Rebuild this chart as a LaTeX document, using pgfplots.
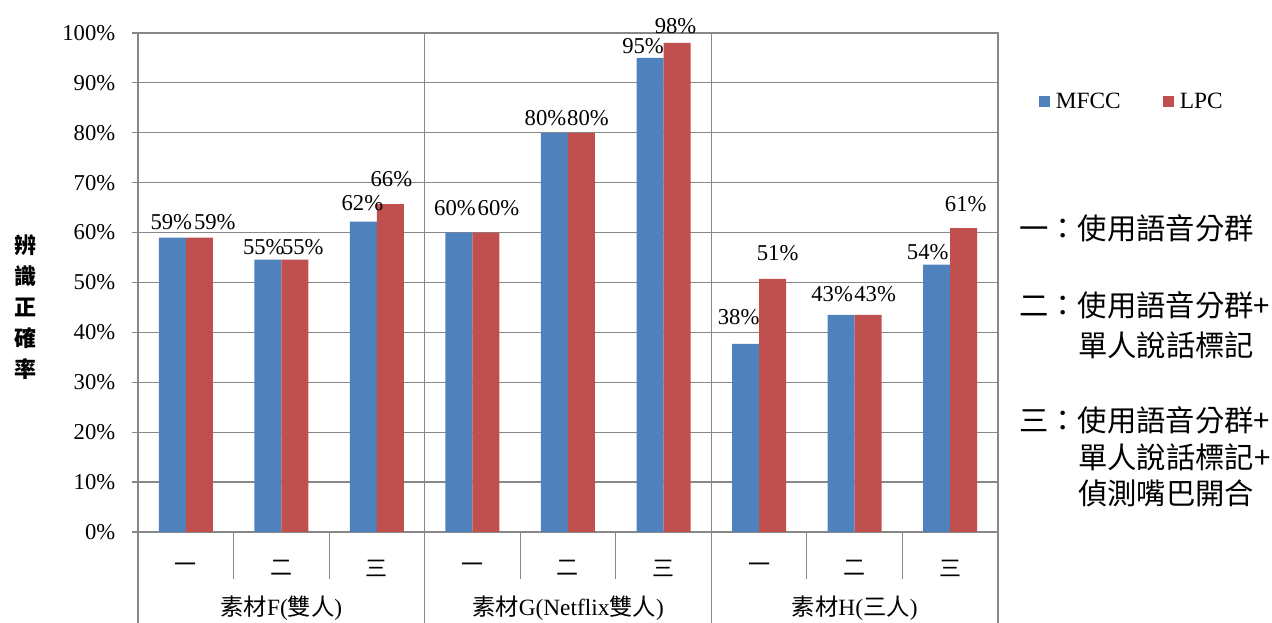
\documentclass[border=0pt]{standalone}
\usepackage{fontspec}
\setmainfont{Liberation Serif}
\newfontfamily\cjk{Noto Sans CJK TC}
\usepackage{pgfplots}
\usepackage{pgfplotstable}
\pgfplotsset{compat=1.18}
\definecolor{mblue}{HTML}{4F81BD}
\definecolor{mred}{HTML}{C0504D}
\definecolor{gridc}{HTML}{878787}
\newcommand{\fs}[1]{\fontsize{#1}{#1}\selectfont}
% x, value, label, label dx (px), label dy (px above bar top)
\pgfplotstableread{
x y lab dx dy
0 59 59 -1 15
1 54.6 55 -4 12
2 62.2 62 -1 19
3 60 60 -4 24
4 80 80 -9 15
5 95 95 -7 12
6 37.7 38 -7 27
7 43.5 43 -9 21
8 53.6 54 -9 12
}\mfcc
\pgfplotstableread{
x y lab dx dy
0 59 59 15.5 15
1 54.6 55 8 12
2 65.7 66 1 25
3 60 60 12.5 24
4 80 80 6.5 15
5 98 98 -1.5 17
6 50.7 51 5 26
7 43.5 43 7 21
8 60.9 61 2 24
}\lpc
\begin{document}
\begin{tikzpicture}[x=0.75pt,y=0.75pt]
\useasboundingbox (0,0) rectangle (1272,623);
\begin{axis}[
  at={(103.5pt,68.25pt)}, anchor=south west,
  width=645pt, height=374.25pt, scale only axis,
  xmin=-0.5, xmax=8.5, ymin=0, ymax=100,
  ybar=0pt, bar width=20.25pt,
  xtick={0,...,8},
  xticklabels={一,二,三,一,二,三,一,二,三},
  xtick style={draw=none},
  xticklabel style={font=\cjk\fs{16.5}, anchor=center, yshift=-22.5pt},
  ytick={0,10,...,100},
  yticklabel={\pgfmathprintnumber{\tick}\%},
  /pgf/number format/assume math mode=true,
  yticklabel style={font=\fs{17}, xshift=-9pt},
  ytick pos=left,
  ytick style={gridc, line width=0.9pt},
  tick align=outside, major tick length=4.5pt,
  ymajorgrids, grid style={gridc, line width=0.9pt},
  axis line style={gridc, line width=0.9pt},
  clip=false,
  nodes near coords={\pgfmathprintnumber{\pgfplotspointmeta}\%},
  point meta=\thisrow{lab},
  visualization depends on={\thisrow{dx}\as\dx},
  visualization depends on={\thisrow{dy}\as\dy},
  every node near coord/.append style={font=\fs{17}, black, inner sep=0pt,
     anchor=center, xshift=\dx*0.75pt, yshift=\dy*0.75pt},
  legend style={at={(1.0430,0.862)}, anchor=west, draw=none, fill=none,
    legend columns=2, font=\fs{17.5},
    /tikz/every odd column/.append style={column sep=2.25pt},
    /tikz/every even column/.append style={column sep=30pt},
    legend cell align=left},
  legend image code/.code={\path[#1,draw=none] (0pt,-4.1pt) rectangle (8.2pt,4.1pt);},
]
\addplot[fill=mblue, draw=none] table[x=x,y=y] {\mfcc};
\addplot[fill=mred, draw=none] table[x=x,y=y] {\lpc};
\legend{MFCC,LPC}
\draw[gridc, line width=0.9pt] (axis cs:2.5,0) -- (axis cs:2.5,100);
\draw[gridc, line width=0.9pt] (axis cs:5.5,0) -- (axis cs:5.5,100);
\pgfplotsinvokeforeach{0.5,1.5,3.5,4.5,6.5,7.5}{
  \draw[gridc, line width=0.9pt] (axis cs:#1,0) -- ++(0pt,-35.25pt);
}
\pgfplotsinvokeforeach{-0.5,2.5,5.5,8.5}{
  \draw[gridc, line width=0.9pt] (axis cs:#1,0) -- ++(0pt,-68.25pt);
}
\node[font=\fs{17.5}] at ([yshift=-57pt]axis cs:1,0) {\cjk 素材\rmfamily F(\cjk 雙人\rmfamily)};
\node[font=\fs{17.5}] at ([yshift=-57pt]axis cs:4,0) {\cjk 素材\rmfamily G(Netflix\cjk 雙人\rmfamily)};
\node[font=\fs{17.5}] at ([yshift=-57pt]axis cs:7,0) {\cjk 素材\rmfamily H(\cjk 三人\rmfamily)};
\end{axis}
% y label
\foreach \c/\yy in {辨/245,識/276,正/307,確/338,率/369}{
  \node[font=\cjk\bfseries\fs{16.5}] at (25,623-\yy) {\c};
}
% notes
\node[anchor=west, font=\cjk\fs{22}, inner sep=0pt] at (1019,623-228) {一：使用語音分群};
\node[anchor=west, font=\cjk\fs{22}, inner sep=0pt] at (1019,623-305) {二：使用語音分群+};
\node[anchor=west, font=\cjk\fs{22}, inner sep=0pt] at (1078,623-345) {單人說話標記};
\node[anchor=west, font=\cjk\fs{22}, inner sep=0pt] at (1019,623-420) {三：使用語音分群+};
\node[anchor=west, font=\cjk\fs{22}, inner sep=0pt] at (1078,623-457) {單人說話標記+};
\node[anchor=west, font=\cjk\fs{22}, inner sep=0pt] at (1078,623-493) {偵測嘴巴開合};
\end{tikzpicture}
\end{document}
